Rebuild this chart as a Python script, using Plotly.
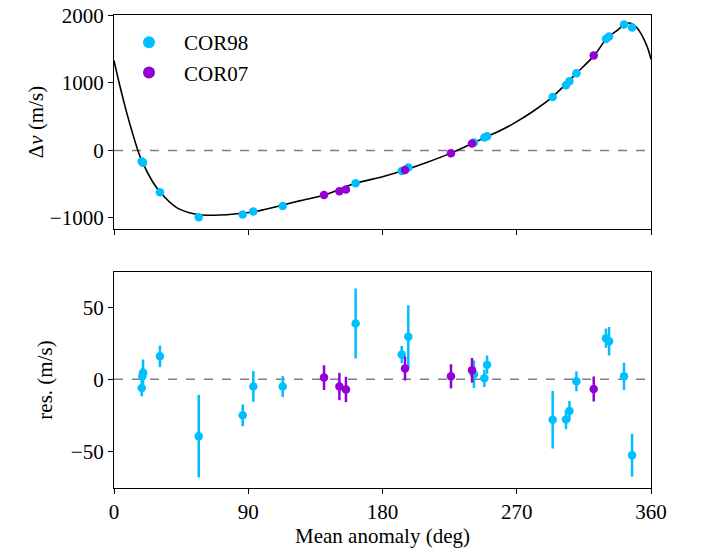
import plotly.graph_objects as go
from plotly.subplots import make_subplots

# ---- data ----
cor98_x = [18.6, 19.5, 19.0, 30.8, 56.8, 86.3, 93.4, 113.1, 162.0, 192.9, 197.3,
           241.3, 248.3, 250.1, 294.1, 303.0, 305.3, 310.0, 329.8, 331.9, 341.9, 347.3]
cor98_dv = [-165, -182, -172, -620, -989, -950, -905, -822, -487, -305, -251,
            118, 192, 211, 792, 964, 1023, 1141, 1649, 1687, 1864, 1820]
cor98_res = [-6.0, 4.5, 2.2, 16.0, -39.5, -25.0, -4.9, -5.0, 38.8, 17.2, 29.6,
             3.5, 0.7, 10.2, -28.1, -27.9, -22.0, -1.4, 28.6, 26.5, 2.1, -52.7]
cor98_err = [5.8, 9.3, 6.0, 7.5, 28.7, 7.6, 10.7, 7.3, 24.3, 6.0, 21.9,
             9.6, 6.0, 6.4, 20.0, 6.7, 6.9, 6.9, 6.7, 9.9, 9.5, 14.9]

cor07_x = [140.8, 151.1, 155.5, 195.1, 225.9, 240.0, 321.6]
cor07_dv = [-660, -605, -580, -291, -40, 103, 1407]
cor07_res = [1.2, -5.0, -7.0, 7.5, 2.1, 6.3, -6.7]
cor07_err = [8.6, 9.5, 8.8, 8.3, 8.4, 8.6, 8.7]

model_x = [0, 4, 8.5, 12.5, 16, 19, 25, 31, 42, 55, 67, 86, 100, 113, 125, 141,
           162, 180, 195, 210, 226, 240, 250, 259, 268, 281, 294, 310, 322, 330,
           338, 342, 346, 350, 353, 356, 358, 360]
model_dv = [1330, 950, 560, 250, 0, -170, -430, -620, -846, -945, -960, -930, -880,
            -810, -743, -660, -487, -390, -290, -175, -40, 100, 205, 295, 400, 580,
            792, 1141, 1407, 1649, 1790, 1864, 1885, 1830, 1740, 1610, 1500, 1350]

x_ticks = [0, 90, 180, 270, 360]

C98 = "#00BFFF"
C07 = "#9400D3"
FONT = "Liberation Serif"
FS = 21

fig = make_subplots(rows=2, cols=1, shared_xaxes=True, vertical_spacing=0.0)

fig.add_trace(go.Scatter(x=model_x, y=model_dv, mode="lines",
                         line=dict(color="black", width=1.6, shape="spline", smoothing=0.8),
                         showlegend=False, hoverinfo="skip"), row=1, col=1)

for xs, dv, res, err, col, name in [
    (cor98_x, cor98_dv, cor98_res, cor98_err, C98, "COR98"),
    (cor07_x, cor07_dv, cor07_res, cor07_err, C07, "COR07"),
]:
    fig.add_trace(go.Scatter(x=xs, y=dv, mode="markers", name=name,
                             marker=dict(color=col, size=8.5, line=dict(width=0)),
                             error_y=dict(type="data", array=err, color=col,
                                          thickness=2.5, width=0),
                             showlegend=True), row=1, col=1)
    fig.add_trace(go.Scatter(x=xs, y=res, mode="markers", name=name,
                             marker=dict(color=col, size=8.5, line=dict(width=0)),
                             error_y=dict(type="data", array=err, color=col,
                                          thickness=2.5, width=0),
                             showlegend=False), row=2, col=1)

for r in (1, 2):
    fig.add_hline(y=0, line=dict(color="gray", width=1.5, dash="dash"), row=r, col=1,
                  layer="below")

axis_common = dict(showgrid=False, zeroline=False, showline=True, linecolor="black",
                   linewidth=1.3, mirror=True, ticks="outside", ticklen=5,
                   tickwidth=1.2, tickcolor="black", automargin=False,
                   tickfont=dict(family=FONT, size=FS, color="black"))

fig.update_xaxes(range=[0, 360], tickvals=x_ticks, **axis_common)
fig.update_xaxes(showticklabels=False, row=1, col=1)
fig.update_xaxes(title=dict(text="Mean anomaly (deg)",
                            font=dict(family=FONT, size=FS, color="black"), standoff=4),
                 row=2, col=1)

fig.update_yaxes(**axis_common)
fig.update_yaxes(range=[-1163, 2005], tickvals=[-1000, 0, 1000, 2000],
                 domain=[0.5476, 1.0],
                 title=dict(text="Δ<i>v</i> (m/s)", font=dict(family=FONT, size=FS, color="black"),
                            standoff=0),
                 row=1, col=1)
fig.update_yaxes(range=[-75.5, 74.6], tickvals=[-50, 0, 50],
                 domain=[0.0, 0.4567],
                 title=dict(text="res. (m/s)", font=dict(family=FONT, size=FS, color="black"),
                            standoff=12),
                 row=2, col=1)

fig.update_layout(
    width=704, height=551,
    margin=dict(l=114, r=53, t=15, b=63, autoexpand=False),
    paper_bgcolor="white", plot_bgcolor="white",
    font=dict(family=FONT, size=FS, color="black"),
    legend=dict(x=0.0, y=0.985, xanchor="left", yanchor="top",
                bgcolor="rgba(255,255,255,0)", font=dict(family=FONT, size=FS),
                itemsizing="constant", itemwidth=60, tracegroupgap=0),
)

fig.write_html("out.html")
